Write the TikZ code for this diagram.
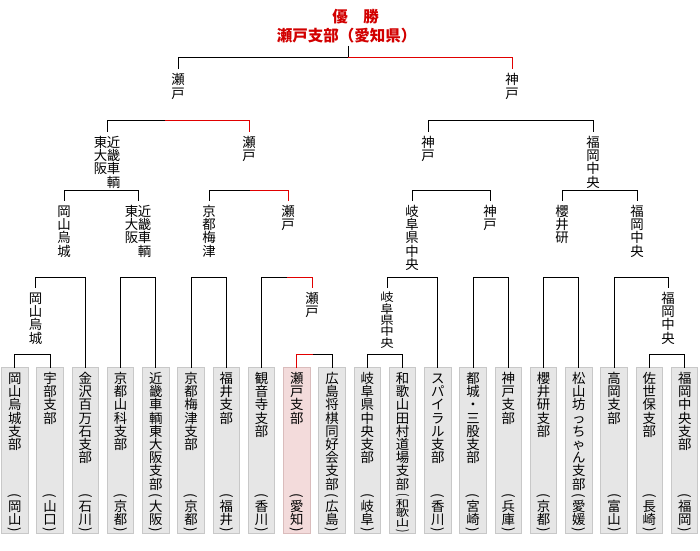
\documentclass[tikz,border=0pt]{standalone}
\usepackage{fontspec}
\setmainfont{Noto Sans CJK JP}
\usepackage{graphicx}
\definecolor{rl}{RGB}{225,0,0}
\definecolor{tred}{RGB}{210,0,0}
\definecolor{bfill}{RGB}{230,230,230}
\definecolor{bedge}{RGB}{200,200,200}
\definecolor{pfill}{RGB}{243,219,219}
\definecolor{pedge}{RGB}{218,188,188}

\ExplSyntaxOn
\dim_new:N \l__vt_p_dim
\cs_new_protected:Npn \__vt_row:nn #1#2
 { \hbox_to_wd:nn {13pt} { \hss \vrule~height~#1~depth~2.3pt~width~0pt \smash{#2} \hss } }
\NewDocumentCommand \V { O{13.2pt} m }
 {
  \dim_set:Nn \l__vt_p_dim { #1 - 2.3pt }
  \vbox_top:n
   {
    \offinterlineskip
    \exp_args:No \tl_map_inline:nn {#2} { \__vt_row:nn { \dim_use:N \l__vt_p_dim } {##1} }
   }
 }
\NewDocumentCommand \pref { m }
 {
  \vbox_top:n
   {
    \offinterlineskip
    \hbox_to_wd:nn {13pt} { \hss \rotatebox{-90}{(} \hss }
    \kern 2.5pt
    \tl_map_inline:nn {#1} { \__vt_row:nn {10.9pt} {##1} }
    \kern 1pt
    \hbox_to_wd:nn {13pt} { \hss \rotatebox{-90}{)} \hss }
   }
 }
\ExplSyntaxOff

\tikzset{
  blk/.style={line width=1pt, draw=black},
  rd/.style={line width=1pt, draw=rl},
  leafbox/.style={draw=bedge, fill=bfill, line width=1pt, minimum width=26.5pt, minimum height=166pt, anchor=north, inner sep=0pt, outer sep=0pt},
  winbox/.style={leafbox, draw=pedge, fill=pfill},
  lbl/.style={inner sep=0pt, outer sep=0pt, anchor=north, font=\fontsize{13.4}{13.2}\selectfont},
  prf/.style={inner sep=0pt, outer sep=0pt, anchor=south, font=\fontsize{13.4}{13.2}\selectfont},
  ttl/.style={inner sep=0pt, outer sep=0pt, anchor=north, text=tred, font=\fontsize{15.5}{15.5}\selectfont\bfseries}
}

\newcommand\leaf[5]{%
  \node[#5] (b#1) at (#2,367.5) {};
  \node[lbl] (n#1) at ([yshift=-5pt]b#1.north) {\V{#3}};
  \node[prf] (p#1) at ([yshift=1pt]b#1.south) {#4};}

\newcommand\brk[4][blk]{\draw[#1] (#2) -- (#2 |- #4) -- (#3 |- #4) -- (#3);}

\begin{document}
\begin{tikzpicture}[x=1pt,y=-1pt]
\useasboundingbox[fill=white] (0,0) rectangle (700,550);

% title
\node[ttl] (t1) at (355.5,9.5) {優　勝};
\node[ttl] (t2) at (346.5,28.5) {瀬戸支部（愛知県）};

% leaves
\leaf{0}{14.75}{岡山烏城支部}{\pref{岡山}}{leafbox}
\leaf{1}{50.01}{宇部支部}{\pref{山口}}{leafbox}
\leaf{2}{85.27}{金沢百万石支部}{\pref{石川}}{leafbox}
\leaf{3}{120.53}{京都山科支部}{\pref{京都}}{leafbox}
\leaf{4}{155.79}{近畿車輌東大阪支部}{\pref{大阪}}{leafbox}
\leaf{5}{191.05}{京都梅津支部}{\pref{京都}}{leafbox}
\leaf{6}{226.31}{福井支部}{\pref{福井}}{leafbox}
\leaf{7}{261.57}{観音寺支部}{\pref{香川}}{leafbox}
\leaf{8}{296.83}{瀬戸支部}{\pref{愛知}}{winbox}
\leaf{9}{332.09}{広島将棋同好会支部}{\pref{広島}}{leafbox}
\leaf{10}{367.35}{岐阜県中央支部}{\pref{岐阜}}{leafbox}
\leaf{11}{402.61}{和歌山田村道場支部}{\scalebox{1}[0.74]{\pref{和歌山}}}{leafbox}
\leaf{12}{437.87}{スパイラル支部}{\pref{香川}}{leafbox}
\leaf{13}{473.13}{都城・三股支部}{\pref{宮崎}}{leafbox}
\leaf{14}{508.39}{神戸支部}{\pref{兵庫}}{leafbox}
\leaf{15}{543.65}{櫻井研支部}{\pref{京都}}{leafbox}
\leaf{16}{578.91}{松山坊っちゃん支部}{\pref{愛媛}}{leafbox}
\leaf{17}{614.17}{高岡支部}{\pref{富山}}{leafbox}
\leaf{18}{649.43}{佐世保支部}{\pref{長崎}}{leafbox}
\leaf{19}{684.69}{福岡中央支部}{\pref{福岡}}{leafbox}

% winner labels
\node[lbl] (li) at (178,74) {\V{瀬戸}};
\node[lbl] (lr) at (512,74) {\V{神戸}};
\node[lbl] (ld) at (107,136.5) {\V{東大阪}\V{近畿車輌}};
\node[lbl] (lh) at (249,136.5) {\V{瀬戸}};
\node[lbl] (lm) at (428,136.5) {\V{神戸}};
\node[lbl] (lq) at (593,136.5) {\V{福岡中央}};
\node[lbl] (lb) at (64,205.5) {\V{岡山烏城}};
\node[lbl] (lc) at (138,205.5) {\V{東大阪}\V{近畿車輌}};
\node[lbl] (le) at (209,205.5) {\V{京都梅津}};
\node[lbl] (lg) at (288,205.5) {\V{瀬戸}};
\node[lbl] (lk) at (412,205.5) {\V{岐阜県中央}};
\node[lbl] (ll) at (490,205.5) {\V{神戸}};
\node[lbl] (lnn) at (562,205.5) {\V{櫻井研}};
\node[lbl] (lp) at (637,205.5) {\V{福岡中央}};
\node[lbl] (la) at (35.5,292.5) {\V{岡山烏城}};
\node[lbl] (lf) at (312,292.5) {\V{瀬戸}};
\node[lbl] (lj) at (387,292.5) {\scalebox{1}[0.86]{\V{岐阜県中央}}};
\node[lbl] (lo) at (668,292.5) {\V{福岡中央}};

% stem ends above labels
\foreach \n in {li,lr,ld,lh,lm,lq,lb,lc,le,lg,lk,ll,lnn,lp,la,lf,lj,lo}
  \coordinate (s-\n) at ([yshift=5pt]\n.north);

% levels and junctions
\coordinate (Y1) at (0,57);
\coordinate (Y2) at (0,120);
\coordinate (Y3) at (0,190);
\coordinate (Y4) at (0,277);
\coordinate (Y5) at (0,354);
\coordinate (J0) at (348,57);
\coordinate (Ji) at (165,120);
\coordinate (Jh) at (250,190);
\coordinate (Jg) at (287,277);
\coordinate (Jf) at (313,354);
\path (t2.south) ++(0,2.5) coordinate (tt);

% black brackets
\draw[blk] (tt -| J0) -- (J0);
\draw[blk] (s-li) -- (s-li |- Y1) -- (J0);
\draw[blk] (s-ld) -- (s-ld |- Y2) -- (Ji);
\brk{s-lm}{s-lq}{Y2}
\brk{s-lb}{s-lc}{Y3}
\draw[blk] (s-le) -- (s-le |- Y3) -- (Jh);
\brk{s-lk}{s-ll}{Y3}
\brk{s-lnn}{s-lp}{Y3}
\brk{s-la}{b2.north}{Y4}
\brk{b3.north}{b4.north}{Y4}
\brk{b5.north}{b6.north}{Y4}
\draw[blk] (b7.north) -- (b7.north |- Y4) -- (Jg);
\brk{s-lj}{b12.north}{Y4}
\brk{b13.north}{b14.north}{Y4}
\brk{b15.north}{b16.north}{Y4}
\brk{b17.north}{s-lo}{Y4}
\brk{b0.north}{b1.north}{Y5}
\draw[blk] (Jf) -- (b9.north |- Y5) -- (b9.north);
\brk{b10.north}{b11.north}{Y5}
\brk{b18.north}{b19.north}{Y5}

% red path
\draw[rd] (J0) -- (s-lr |- Y1) -- (s-lr);
\draw[rd] (Ji) -- (s-lh |- Y2) -- (s-lh);
\draw[rd] (Jh) -- (s-lg |- Y3) -- (s-lg);
\draw[rd] (Jg) -- (s-lf |- Y4) -- (s-lf);
\draw[rd] (b8.north) -- (b8.north |- Y5) -- (Jf);
\end{tikzpicture}
\end{document}
